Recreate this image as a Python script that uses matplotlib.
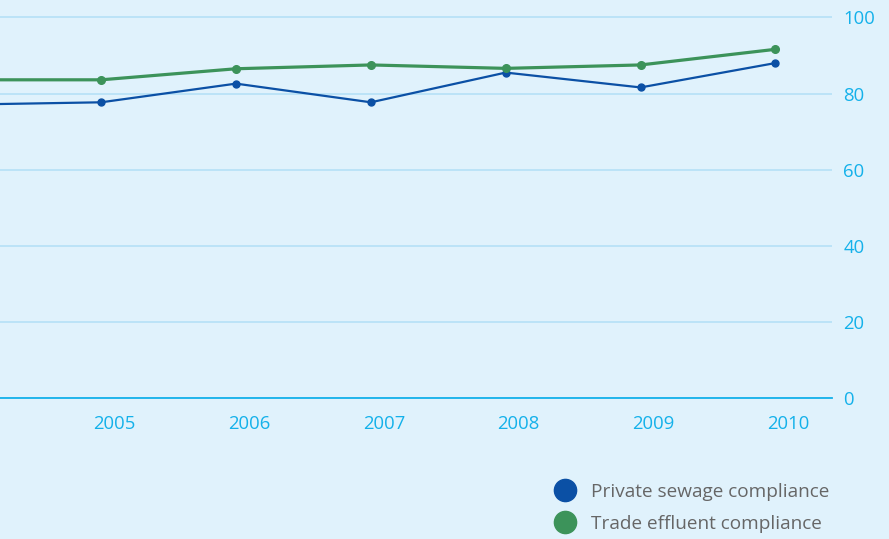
import matplotlib.pyplot as plt
from matplotlib.lines import Line2D
import matplotlib.transforms as mtransforms

plt.rcParams['font.family'] = ['Open Sans', 'DejaVu Sans']

# Compliance rates (%) by year
years = [2004, 2005, 2006, 2007, 2008, 2009, 2010]
private_sewage = [77.1, 77.7, 82.6, 77.7, 85.5, 81.6, 88.0]
trade_effluent = [83.6, 83.6, 86.5, 87.5, 86.6, 87.5, 91.6]
year_labels = ['2005', '2006', '2007', '2008', '2009', '2010']
y_ticks = [0, 20, 40, 60, 80, 100]

bg = '#e0f2fc'
cyan = '#14b1ea'
grid_col = '#b5e1f6'
blue = '#0b50a5'
green = '#3c935a'

fig = plt.figure(figsize=(8.89, 5.39), dpi=100, facecolor=bg)
ax = fig.add_axes([0.0, 0.2607, 0.936, 0.7355])
ax.set_facecolor(bg)

ax.plot(years, private_sewage, color=blue, lw=1.6, marker='o', ms=5, zorder=3)
ax.plot(years, trade_effluent, color=green, lw=2.3, marker='o', ms=5.5, zorder=3)

ax.set_xlim(2004.25, 2010.42)
ax.set_ylim(0, 104)

# horizontal grid, right-hand value axis
ax.set_yticks(y_ticks)
ax.yaxis.tick_right()
ax.tick_params(axis='y', length=0, pad=8, labelsize=13.3, labelcolor=cyan)
ax.grid(axis='y', color=grid_col, lw=1.2, zorder=0)
ax.set_axisbelow(True)

ax.set_xticks(years[1:])
ax.set_xticklabels(year_labels)
ax.tick_params(axis='x', length=0, pad=12, labelsize=13.3, labelcolor=cyan)
shift = mtransforms.ScaledTranslation(13 / 100, 0, fig.dpi_scale_trans)
for lbl in ax.get_xticklabels():
    lbl.set_transform(lbl.get_transform() + shift)

for side in ['top', 'left', 'right']:
    ax.spines[side].set_visible(False)
ax.spines['bottom'].set_color(cyan)
ax.spines['bottom'].set_linewidth(1.3)

handles = [
    Line2D([], [], ls='', marker='o', ms=16, color=blue),
    Line2D([], [], ls='', marker='o', ms=16, color=green),
]
fig.legend(handles, ['Private sewage compliance', 'Trade effluent compliance'],
           loc='upper left', bbox_to_anchor=(0.625, 0.104), frameon=False,
           fontsize=13.7, labelcolor='#666666', handlelength=1.0,
           handletextpad=0.87, labelspacing=0.74, borderpad=0, borderaxespad=0)

fig.savefig('out.png', dpi=100, facecolor=bg)
